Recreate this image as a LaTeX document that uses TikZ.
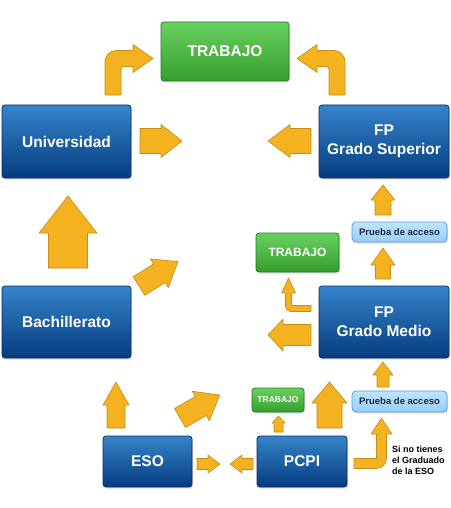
\documentclass[tikz,border=0pt]{standalone}
\usepackage{fontspec}
\setmainfont{Liberation Sans}
\usetikzlibrary{shadows}
\definecolor{bluetop}{RGB}{54,132,202}
\definecolor{bluebot}{RGB}{6,60,128}
\definecolor{blueline}{RGB}{12,45,95}
\definecolor{greentop}{RGB}{104,208,94}
\definecolor{greenbot}{RGB}{54,158,44}
\definecolor{greenline}{RGB}{38,122,34}
\definecolor{pruetop}{RGB}{192,228,253}
\definecolor{pruebot}{RGB}{150,206,246}
\definecolor{prueline}{RGB}{86,154,222}
\definecolor{pruetext}{RGB}{30,40,60}
\definecolor{arrfill}{RGB}{244,178,32}
\definecolor{arrline}{RGB}{196,140,25}
\newcommand\UpArr[6]{% cx, tip, headbase, bottom, head half, shaft half
  \draw[arrowsty] ({#1-#6},#4) -- ({#1-#6},#3) -- ({#1-#5},#3) -- (#1,#2) -- ({#1+#5},#3) -- ({#1+#6},#3) -- ({#1+#6},#4) -- cycle;}
\newcommand\HArr[6]{% cy, tip, headbase, tail, head half, shaft half
  \draw[arrowsty] (#4,{#1-#6}) -- (#3,{#1-#6}) -- (#3,{#1-#5}) -- (#2,#1) -- (#3,{#1+#5}) -- (#3,{#1+#6}) -- (#4,{#1+#6}) -- cycle;}
\newcommand\DiagArr[3]{% tail x, tail y, angle
  \begin{scope}[shift={(#1,#2)},rotate=#3]
  \draw[arrowsty] (0,-11) -- (24,-11) -- (24,-17) -- (46,0) -- (24,17) -- (24,11) -- (0,11) -- cycle;
  \end{scope}}
\begin{document}
\begin{tikzpicture}[x=1pt,y=-1pt,
  arrowsty/.style={fill=arrfill, draw=arrline, line width=0.6pt, line join=round},
  boxbase/.style={rounded corners=3pt, line width=0.8pt, inner sep=0pt, align=center,
    drop shadow={shadow xshift=1pt, shadow yshift=-1.5pt, opacity=0.25}},
  bluebox/.style={boxbase, draw=blueline, top color=bluetop, bottom color=bluebot, text=white,
    font=\bfseries\fontsize{15.5}{19}\selectfont},
  greenbox/.style={boxbase, draw=greenline, top color=greentop, bottom color=greenbot, text=white},
  pruebox/.style={boxbase, rounded corners=4pt, draw=prueline, top color=pruetop, bottom color=pruebot, text=pruetext,
    font=\bfseries\fontsize{9.5}{11}\selectfont, minimum width=95pt, minimum height=20pt},
  notetext/.style={inner sep=0pt, anchor=north west, align=left, text=black,
    font=\bfseries\fontsize{9}{11}\selectfont}
]
\useasboundingbox (0,0) rectangle (450,508);

% boxes
\node[greenbox, minimum width=128pt, minimum height=59pt, font=\bfseries\fontsize{15.5}{18}\selectfont] (trab) at (225,51.5) {TRABAJO};
\node[bluebox, minimum width=129pt, minimum height=73pt] (univ) at (66.5,141.5) {Universidad};
\node[bluebox, minimum width=130pt, minimum height=73pt] (fpgs) at (384,141.5) {FP\\Grado Superior};
\node[pruebox] (pru1) at (399.5,232) {Prueba de acceso};
\node[greenbox, minimum width=83pt, minimum height=39pt, font=\bfseries\fontsize{12}{14}\selectfont] (trab2) at (297.5,252.5) {TRABAJO};
\node[bluebox, minimum width=130pt, minimum height=72pt] (fpgm) at (384,322) {FP\\Grado Medio};
\node[bluebox, minimum width=129pt, minimum height=72pt] (bach) at (66.5,322) {Bachillerato};
\node[bluebox, minimum width=89pt, minimum height=51pt] (eso) at (147.5,461.5) {ESO};
\node[bluebox, minimum width=90pt, minimum height=51pt] (pcpi) at (302,461.5) {PCPI};
\node[greenbox, minimum width=52pt, minimum height=24pt, font=\bfseries\fontsize{8.5}{10}\selectfont] (trab3) at (278,400) {TRABAJO};
\node[pruebox, minimum height=21pt] (pru2) at (399.5,401.5) {Prueba de acceso};
\node[notetext] (note) at (392,445.5) {Si no tienes\\el Graduado\\de la ESO};

% elbow arrows to top TRABAJO
\draw[arrowsty] (105,95) -- (105,61.5) .. controls (105,55.4) and (109.9,50.5) .. (116,50.5) -- (133,50.5) -- (133,44.5) -- (153,58.5) -- (133,72.5) -- (133,66.5) -- (124,66.5) .. controls (122.3,66.5) and (121,67.8) .. (121,69.5) -- (121,95) -- cycle;
\draw[arrowsty] (345,95) -- (345,61.5) .. controls (345,55.4) and (340.1,50.5) .. (334,50.5) -- (317,50.5) -- (317,44.5) -- (297,58.5) -- (317,72.5) -- (317,66.5) -- (326,66.5) .. controls (327.7,66.5) and (329,67.8) .. (329,69.5) -- (329,95) -- cycle;

% horizontal arrows
\HArr{141}{182}{161}{140}{16.5}{12.5}
\HArr{141}{268}{290}{311}{16.5}{12.5}
\HArr{335}{268}{283}{311}{16}{10.5}
\HArr{464}{220}{208}{197}{9}{5.5}
\HArr{464}{230}{242}{253}{9}{5.5}

% up arrows
\UpArr{68}{196}{233}{268}{29}{19.5}
\UpArr{116}{382}{405}{428}{13}{9}
\UpArr{383}{185}{200}{215}{12}{8}
\UpArr{383}{248}{265}{279}{12}{7.5}
\UpArr{329.5}{382}{403}{428}{17.5}{12.5}
\UpArr{383}{362}{375}{387}{10}{6}
\UpArr{278.5}{416}{423}{432}{6.5}{4.5}

% diagonal arrows
\DiagArr{139}{286}{32}
\DiagArr{180}{418}{30}

% small elbow to middle TRABAJO
\draw[arrowsty] (311,311.5) -- (290.5,311.5) .. controls (287.7,311.5) and (285.5,309.3) .. (285.5,306.5) -- (285.5,293) -- (281.5,293) -- (288.5,278) -- (295.5,293) -- (291.5,293) -- (291.5,305.5) -- (311,305.5) -- cycle;

% elbow from PCPI to lower Prueba
\draw[arrowsty] (354,458.5) -- (376.5,458.5) -- (376.5,434) -- (371,434) -- (381.5,418) -- (392,434) -- (386.5,434) -- (386.5,458.5) .. controls (386.5,464) and (382,468.5) .. (376.5,468.5) -- (354,468.5) -- cycle;
\end{tikzpicture}
\end{document}
